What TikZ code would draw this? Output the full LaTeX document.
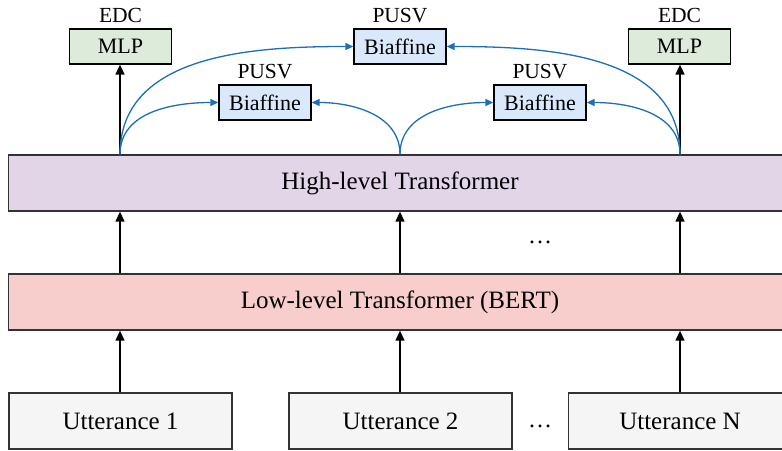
\documentclass[tikz,border=0pt]{standalone}
\usepackage{fontspec}
\setmainfont{Liberation Serif}
\usetikzlibrary{arrows.meta}
\definecolor{hlfill}{HTML}{E1D5E7}
\definecolor{llfill}{HTML}{F8CECC}
\definecolor{ufill}{HTML}{F5F5F5}
\definecolor{gfill}{HTML}{DDEBDA}
\definecolor{bfill}{HTML}{DAE8FC}
\definecolor{bline}{HTML}{1C6FB6}
\definecolor{bord}{HTML}{333333}
\begin{document}
\begin{tikzpicture}[x=1pt,y=1pt,
  bigbox/.style={draw=bord,line width=1.3pt,minimum width=783pt,minimum height=56pt,inner sep=0pt,font=\fontsize{25}{28}\selectfont},
  ubox/.style={draw=bord,line width=1.3pt,fill=ufill,minimum width=223pt,minimum height=56pt,inner sep=0pt,font=\fontsize{25}{28}\selectfont},
  mlpbox/.style={draw=black,line width=1.3pt,fill=gfill,minimum width=102pt,minimum height=35pt,inner sep=0pt,font=\fontsize{22}{24}\selectfont},
  bibox/.style={draw=black,line width=1.3pt,fill=bfill,minimum width=92pt,minimum height=35pt,inner sep=0pt,font=\fontsize{22}{24}\selectfont},
  lab/.style={anchor=base,inner sep=0pt,font=\fontsize{21.5}{24}\selectfont},
  dotsnode/.style={anchor=base,inner sep=0pt,font=\fontsize{24}{26}\selectfont},
  arr/.style={line width=1.3pt,-{Triangle[length=10pt,width=9pt]}},
  barr/.style={draw=bline,line width=1.3pt,-{Triangle[length=8pt,width=7pt]},bline},
]
\useasboundingbox (0,0) rectangle (782,450);
\clip (0,0) rectangle (782,450);

% main blocks
\node[bigbox,fill=hlfill] (high) at (400,267) {High-level Transformer};
\node[bigbox,fill=llfill] (low) at (400,148) {Low-level Transformer (BERT)};
\node[ubox] (u1) at (120.5,29) {Utterance 1};
\node[ubox] (u2) at (400.5,29) {Utterance 2};
\node[ubox] (u3) at (680,29) {Utterance N};
\node[dotsnode] (d1) at (540,23) {…};
\node[dotsnode] (d2) at (540,206) {…};

% top heads
\node[mlpbox] (m1) at (120.5,403.5) {MLP};
\node[mlpbox] (m2) at (679.5,403.5) {MLP};
\node[bibox] (bt) at (400,403.5) {Biaffine};
\node[bibox] (b1) at (265,347.5) {Biaffine};
\node[bibox] (b2) at (540,347.5) {Biaffine};
\node[lab] (l1) at (120.5,427.5) {EDC};
\node[lab] (l2) at (679.5,427.5) {EDC};
\node[lab] (l3) at (400,427.5) {PUSV};
\node[lab] (l4) at (265,371) {PUSV};
\node[lab] (l5) at (540,371) {PUSV};

% columns
\coordinate (x1) at (120,0);
\coordinate (x2) at (400,0);
\coordinate (x3) at (680,0);

\draw[arr] (x1 |- u1.north) -- (x1 |- low.south);
\draw[arr] (x2 |- u2.north) -- (x2 |- low.south);
\draw[arr] (x3 |- u3.north) -- (x3 |- low.south);
\draw[arr] (x1 |- low.north) -- (x1 |- high.south);
\draw[arr] (x2 |- low.north) -- (x2 |- high.south);
\draw[arr] (x3 |- low.north) -- (x3 |- high.south);

\coordinate (s1) at (x1 |- high.north);
\coordinate (s2) at (x2 |- high.north);
\coordinate (s3) at (x3 |- high.north);
\draw[arr] (s1) -- (x1 |- m1.south);
\draw[arr] (s3) -- (x3 |- m2.south);

\draw[barr] (s1) to[out=90,in=180] (b1.west);
\draw[barr] (s1) to[out=90,in=180] (bt.west);
\draw[barr] (s2) to[out=90,in=0] (b1.east);
\draw[barr] (s2) to[out=90,in=180] (b2.west);
\draw[barr] (s3) to[out=90,in=0] (b2.east);
\draw[barr] (s3) to[out=90,in=0] (bt.east);
\end{tikzpicture}
\end{document}
